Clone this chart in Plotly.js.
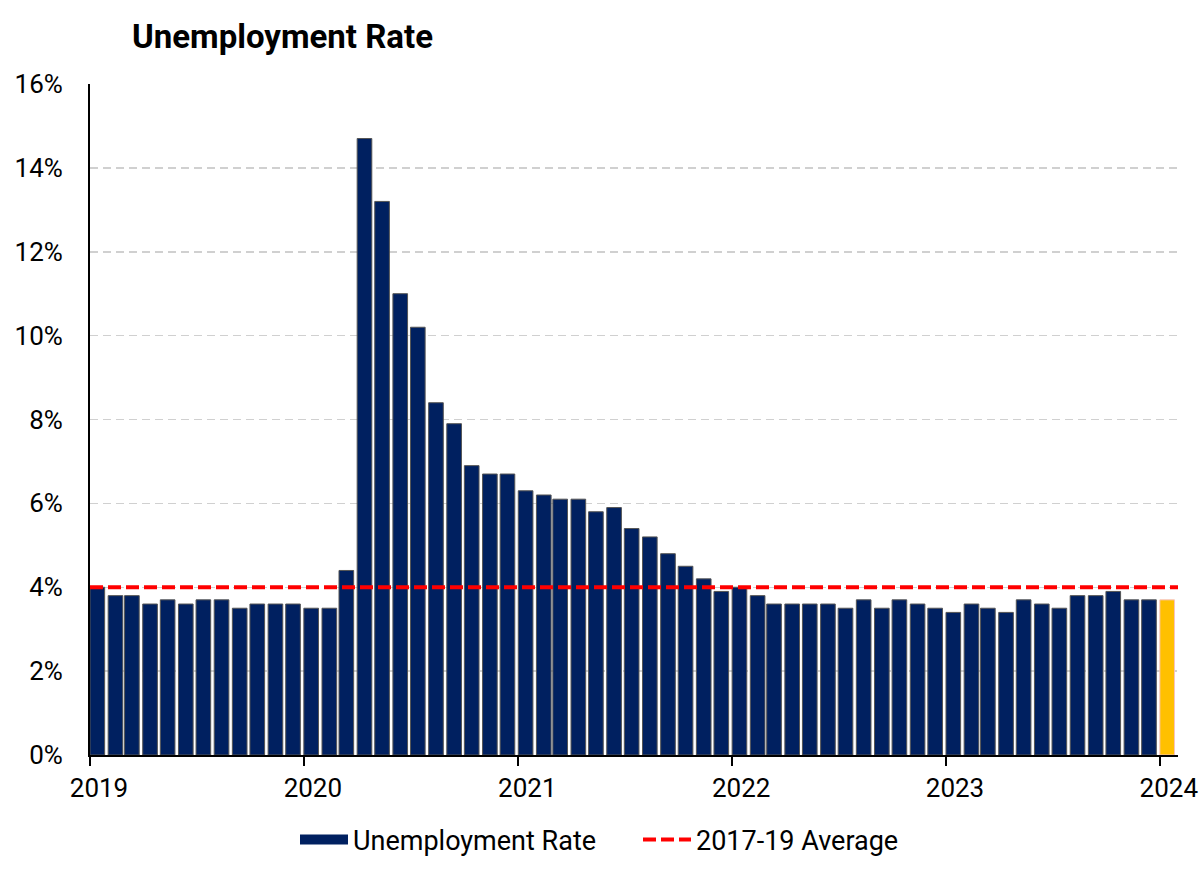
<!DOCTYPE html>
<html>
<head>
<meta charset="utf-8">
<script src="https://cdn.plot.ly/plotly-3.0.1.min.js"></script>
<style>html,body{margin:0;padding:0;background:#fff;}#chart{width:1200px;height:875px;}</style>
</head>
<body>
<div id="chart"></div>
<script>
// Monthly US unemployment rate, Jan 2019 – Jan 2024 (%)
const rate2019 = [4.0, 3.8, 3.8, 3.6, 3.7, 3.6, 3.7, 3.7, 3.5, 3.6, 3.6, 3.6];
const rate2020 = [3.5, 3.5, 4.4, 14.7, 13.2, 11.0, 10.2, 8.4, 7.9, 6.9, 6.7, 6.7];
const rate2021 = [6.3, 6.2, 6.1, 6.1, 5.8, 5.9, 5.4, 5.2, 4.8, 4.5, 4.2, 3.9];
const rate2022 = [4.0, 3.8, 3.6, 3.6, 3.6, 3.6, 3.5, 3.7, 3.5, 3.7, 3.6, 3.5];
const rate2023 = [3.4, 3.6, 3.5, 3.4, 3.7, 3.6, 3.5, 3.8, 3.8, 3.9, 3.7, 3.7];
const rate2024 = [3.7];
const years = [2019, 2020, 2021, 2022, 2023, 2024];
const tickLabels = ["2019", "2020", "2021", "2022", "2023", "2024"];
const yTickVals = [0, 2, 4, 6, 8, 10, 12, 14, 16];
const yTickLabels = ["0%", "2%", "4%", "6%", "8%", "10%", "12%", "14%", "16%"];
const avg201719 = 4.0;
const seriesName = "Unemployment Rate";
const avgName = "2017-19 Average";

const rates = [].concat(rate2019, rate2020, rate2021, rate2022, rate2023, rate2024);
const yearBlocks = [rate2019, rate2020, rate2021, rate2022, rate2023, rate2024];
const months = [];
yearBlocks.forEach((blk, yi) => {
  blk.forEach((v, mi) => {
    months.push(years[yi] + "-" + String(mi + 1).padStart(2, "0") + "-01");
  });
});
const axisEnd = "2024-02-01";
const NAVY = "#002060", GOLD = "#FFC000";
const colors = rates.map((v, i) => i === rates.length - 1 ? GOLD : NAVY);
const lineColors = rates.map((v, i) => i === rates.length - 1 ? "#f6c2c2" : "#555555");
const DAY = 86400000;

const traces = [
  {
    type: "bar",
    x: months,
    y: rates,
    offset: 0,
    width: 25 * DAY,
    marker: { color: colors, line: { color: lineColors, width: 1 } },
    name: seriesName,
    showlegend: false,
    hoverinfo: "x+y"
  },
  {
    type: "scatter",
    mode: "lines",
    x: [null],
    y: [null],
    name: seriesName,
    line: { color: NAVY, width: 15 },
    showlegend: true
  },
  {
    type: "scatter",
    mode: "lines",
    x: [months[0], axisEnd],
    y: [avg201719, avg201719],
    name: avgName,
    line: { color: "#FF0000", width: 4, dash: "13px,5px" },
    showlegend: true
  }
];

const layout = {
  width: 1200,
  height: 875,
  margin: { l: 90, r: 22, t: 84, b: 120 },
  paper_bgcolor: "#ffffff",
  plot_bgcolor: "#ffffff",
  font: { family: "Roboto, Arial, sans-serif", color: "#000000", size: 26 },
  title: {
    text: "<b>Unemployment Rate</b>",
    font: { family: "Roboto, Arial, sans-serif", size: 33, color: "#000000" },
    xref: "container", x: 132 / 1200, xanchor: "left",
    yref: "container", y: 1 - 36 / 875, yanchor: "middle"
  },
  xaxis: {
    type: "date",
    range: [months[0], axisEnd],
    tickvals: years.map(y => y + "-01-01"),
    ticktext: tickLabels,
    ticks: "outside",
    ticklen: 9,
    tickwidth: 2,
    tickcolor: "#000000",
    ticklabelshift: 9,
    showline: true,
    linecolor: "#000000",
    linewidth: 2,
    showgrid: false,
    zeroline: false,
    tickfont: { size: 26, color: "#000000" },
    fixedrange: true
  },
  yaxis: {
    range: [0, 16],
    tickvals: yTickVals,
    ticktext: yTickLabels,
    ticks: "",
    ticklabelstandoff: 20,
    showline: true,
    linecolor: "#000000",
    linewidth: 2,
    showgrid: true,
    gridcolor: "#d0d0d0",
    gridwidth: 1.5,
    griddash: "8px,5px",
    zeroline: false,
    tickfont: { size: 26, color: "#000000" },
    fixedrange: true
  },
  showlegend: true,
  legend: {
    orientation: "h",
    xref: "container", x: 295 / 1200, xanchor: "left",
    yref: "container", y: 1 - 840 / 875, yanchor: "middle",
    font: { size: 27, color: "#000000" },
    itemwidth: 48,
    entrywidth: 280,
    traceorder: "normal",
    bgcolor: "rgba(0,0,0,0)"
  },
  bargap: 0
};

Plotly.newPlot("chart", traces, layout, { displayModeBar: false, staticPlot: true });
</script>
</body>
</html>
